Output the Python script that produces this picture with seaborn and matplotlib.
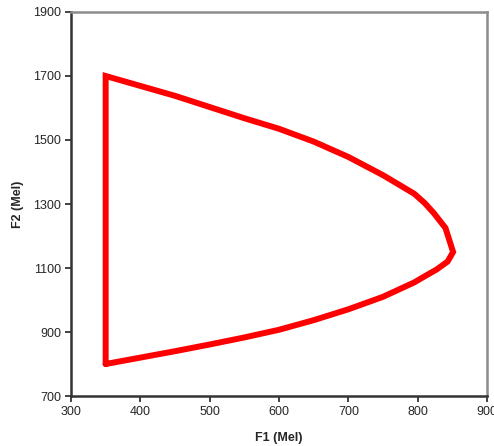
import pandas as pd
import matplotlib
matplotlib.use("Agg")
import matplotlib.pyplot as plt
import seaborn as sns

# contorno do espaço vocálico (F1, F2 em Mel)
f1 = [350, 350, 400, 450, 500, 550, 600, 650, 700, 750, 795, 810, 823, 840, 851,
      843, 827, 810, 795, 750, 700, 650, 600, 550, 500, 450, 400, 350]
f2 = [800, 1700, 1669, 1638, 1603, 1568, 1535, 1495, 1447, 1390, 1332, 1303, 1272, 1225, 1150,
      1120, 1095, 1074, 1055, 1010, 971, 937, 907, 883, 861, 840, 820, 800]

df = pd.DataFrame({"F1": f1, "F2": f2})

sns.set_style("white")
plt.rcParams["font.family"] = ["Liberation Sans", "DejaVu Sans"]

fig = plt.figure(figsize=(4.94, 4.46), dpi=100)
ax = fig.add_axes([0.1437, 0.1121, 0.8423, 0.861])

sns.lineplot(x="F1", y="F2", data=df, sort=False, estimator=None, color="#ff0000",
             linewidth=4.3, ax=ax, solid_joinstyle="miter")

ax.set_xlim(300, 900)
ax.set_ylim(700, 1900)
ax.set_xticks(range(300, 901, 100))
ax.set_yticks(range(700, 1901, 200))
ax.tick_params(axis="both", labelsize=9, length=4, width=1.2, direction="out",
               color="#222222", pad=3, bottom=True, left=True)
ax.set_xlabel("F1 (Mel)", fontsize=9, fontweight="bold", labelpad=10)
ax.set_ylabel("F2 (Mel)", fontsize=9, fontweight="bold", labelpad=7)

for lado in ["left", "bottom"]:
    ax.spines[lado].set_color("#333333")
    ax.spines[lado].set_linewidth(1.8)
for lado in ["top", "right"]:
    ax.spines[lado].set_color("#8c8c8c")
    ax.spines[lado].set_linewidth(1.8)

fig.savefig("out.png", dpi=100)
